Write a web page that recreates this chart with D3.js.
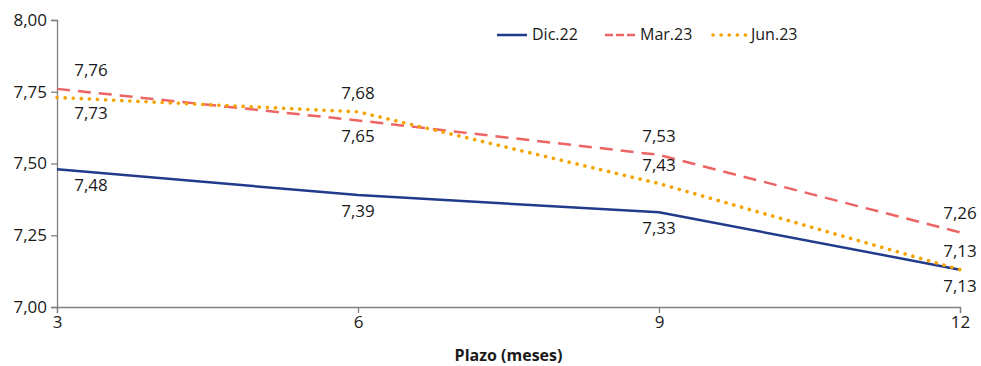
<!DOCTYPE html>
<html>
<head>
<meta charset="utf-8">
<script src="https://cdn.jsdelivr.net/npm/d3@7"></script>
<style>
  body { margin: 0; background: #fff; }
  text { font-family: "Open Sans", "Noto Sans", sans-serif; fill: #1a1a1a; }
</style>
</head>
<body>
<div id="chart"></div>
<script>
// data
var plazos = [3, 6, 9, 12];
var dic22 = [7.48, 7.39, 7.33, 7.13];
var mar23 = [7.76, 7.65, 7.53, 7.26];
var jun23 = [7.73, 7.68, 7.43, 7.13];
var seriesNames = ["Dic.22", "Mar.23", "Jun.23"];
var yTicks = [7.00, 7.25, 7.50, 7.75, 8.00];
// where each data label sits relative to its point
var dicLabelPos = ["below", "below", "below", "below"];
var marLabelPos = ["above", "below", "above", "above"];
var junLabelPos = ["below", "above", "above", "above"];

var width = 981, height = 366;
var margin = {top: 20, right: 21, bottom: 59, left: 57};
var innerW = width - margin.left - margin.right,
    innerH = height - margin.top - margin.bottom;

var svg = d3.select("#chart")
  .append("svg")
    .attr("width", width)
    .attr("height", height);
var g = svg.append("g")
    .attr("transform", "translate(" + margin.left + "," + margin.top + ")");

var x = d3.scaleLinear().domain([3, 12]).range([0, innerW]);
var y = d3.scaleLinear().domain([7, 8]).range([innerH, 0]);

var fmt = function(v) { return d3.format(".2f")(v).replace(".", ","); };

// axes
var yAxis = g.append("g")
  .call(d3.axisLeft(y).tickValues(yTicks).tickFormat(fmt).tickSize(6).tickPadding(4));
var xAxis = g.append("g")
  .attr("transform", "translate(0," + innerH + ")")
  .call(d3.axisBottom(x).tickValues(plazos).tickFormat(d3.format("d")).tickSize(6).tickPadding(3));
[yAxis, xAxis].forEach(function(a) {
  a.select(".domain").attr("stroke", "#7f7f7f").attr("stroke-width", 1.3);
  a.selectAll(".tick line").attr("stroke", "#7f7f7f").attr("stroke-width", 1.3);
  a.selectAll(".tick text").style("font-size", "17px").attr("fill", "#1a1a1a");
});

g.append("text")
  .attr("x", innerW / 2)
  .attr("y", innerH + 54)
  .attr("text-anchor", "middle")
  .style("font-size", "16px")
  .style("font-weight", "bold")
  .text("Plazo (meses)");

var dataReady = [
  {name: seriesNames[0], values: dic22, pos: dicLabelPos, color: "#203a8c", dash: null, width: 2.5, cap: "butt"},
  {name: seriesNames[1], values: mar23, pos: marLabelPos, color: "#ec6464", dash: "13,8", width: 2.5, cap: "butt"},
  {name: seriesNames[2], values: jun23, pos: junLabelPos, color: "#f5a300", dash: "0.1,8", width: 3.6, cap: "round"}
];

var line = d3.line()
  .x(function(d, i) { return x(plazos[i]); })
  .y(function(d) { return y(d); });

g.selectAll("myLines")
  .data(dataReady)
  .enter()
  .append("path")
    .attr("d", function(d) { return line(d.values); })
    .attr("fill", "none")
    .attr("stroke", function(d) { return d.color; })
    .attr("stroke-width", function(d) { return d.width; })
    .attr("stroke-dasharray", function(d) { return d.dash; })
    .attr("stroke-linecap", function(d) { return d.cap; })
    .attr("stroke-linejoin", "round");

// data labels
dataReady.forEach(function(s) {
  g.selectAll("lbl")
    .data(s.values)
    .enter()
    .append("text")
      .attr("x", function(d, i) { return x(plazos[i]) + (i === 0 ? 34 : 0); })
      .attr("y", function(d, i) { return y(d) + (s.pos[i] === "above" ? -13 : 22); })
      .attr("text-anchor", "middle")
      .style("font-size", "17px")
      .text(function(d) { return fmt(d); });
});

// legend
var legendX = [497, 605, 713];
var leg = svg.selectAll("myLegend")
  .data(dataReady)
  .enter()
  .append("g")
    .attr("transform", function(d, i) { return "translate(" + legendX[i] + ",35)"; });
leg.append("line")
  .attr("x1", 0).attr("x2", function(d, i) { return i === 2 ? 34 : 30; })
  .attr("y1", 0).attr("y2", 0)
  .attr("stroke", function(d) { return d.color; })
  .attr("stroke-width", function(d) { return d.width; })
  .attr("stroke-dasharray", function(d, i) { return i === 1 ? "8,3" : d.dash; })
  .attr("stroke-linecap", function(d) { return d.cap; });
leg.append("text")
  .attr("x", function(d, i) { return i === 2 ? 38 : 35; })
  .attr("y", 5)
  .style("font-size", "16px")
  .text(function(d) { return d.name; });
</script>
</body>
</html>
